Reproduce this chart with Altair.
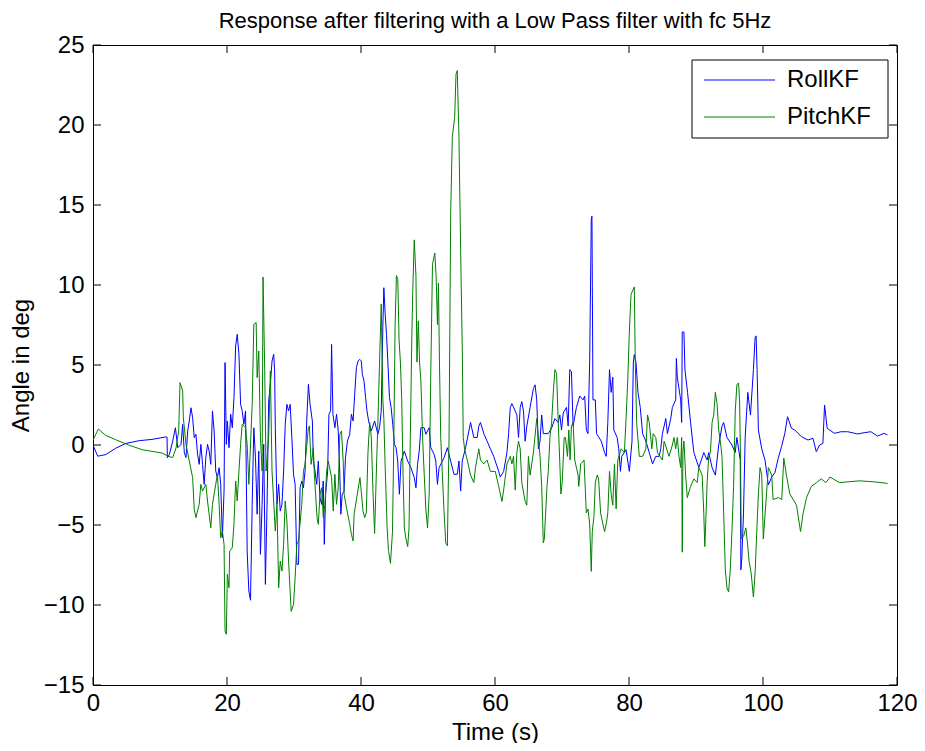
import altair as alt
import pandas as pd

# ---------------- data ----------------
roll_t = [0.0, 0.7, 1.9, 3.4, 4.9, 6.9, 8.8, 10.8, 11.05, 11.1, 11.41, 11.9, 12.3, 12.64, 13.14, 13.38,
          13.63, 13.88, 14.13, 14.37, 14.62, 14.87, 15.11, 15.36, 15.61, 15.85, 16.1, 16.35, 16.59, 16.84,
          17.09, 17.34, 17.58, 17.83, 18.08, 18.32, 18.57, 18.82, 19.06, 19.31, 19.56, 19.71, 19.9, 20.05,
          20.3, 20.55, 20.79, 21.04, 21.29, 21.53, 21.78, 22.03, 22.27, 22.52, 22.77, 23.01, 23.26, 23.51,
          23.76, 24.0, 24.25, 24.5, 24.74, 24.99, 25.24, 25.48, 25.73, 25.98, 26.22, 26.47, 26.72, 26.97,
          27.11, 27.21, 27.46, 27.71, 27.95, 28.2, 28.45, 28.69, 28.94, 29.19, 29.43, 29.68, 29.93, 30.17,
          30.42, 30.67, 30.91, 31.16, 31.41, 31.65, 31.9, 32.15, 32.4, 32.74, 32.89, 33.14, 33.39, 33.63,
          33.88, 34.13, 34.37, 34.52, 34.72, 35.02, 35.21, 35.46, 35.61, 35.81, 36.1, 36.35, 36.6, 36.84,
          36.99, 37.19, 37.48, 37.68, 37.98, 38.32, 38.57, 38.82, 39.06, 39.31, 39.56, 39.81, 40.05, 40.2,
          40.45, 40.69, 40.89, 41.14, 41.53, 42.03, 42.52, 42.77, 43.02, 43.26, 43.41, 43.61, 43.81, 44.0,
          44.25, 44.5, 44.74, 44.99, 45.24, 45.48, 45.73, 45.98, 46.47, 46.96, 47.46, 47.95, 48.2, 48.44,
          48.69, 48.94, 49.43, 49.68, 50.17, 50.42, 50.91, 51.16, 51.41, 51.65, 52.4, 52.89, 53.38, 53.88,
          54.37, 54.62, 54.87, 55.11, 55.61, 56.35, 56.84, 57.34, 57.58, 57.83, 58.33, 58.82, 59.31, 59.81,
          60.55, 60.79, 61.29, 61.78, 62.03, 62.28, 62.52, 63.02, 63.26, 63.51, 63.76, 64.0, 64.25, 64.5,
          64.75, 65.24, 65.73, 65.98, 66.23, 66.47, 66.72, 66.97, 67.21, 67.95, 68.45, 68.94, 69.44, 69.68,
          69.93, 70.18, 70.67, 70.92, 71.16, 71.41, 71.66, 72.15, 72.65, 73.14, 73.39, 73.63, 73.88, 74.13,
          74.37, 74.47, 74.62, 74.97, 75.16, 75.86, 76.35, 76.6, 76.84, 77.09, 77.34, 77.58, 77.73, 78.23,
          78.47, 78.72, 78.92, 79.56, 80.05, 80.45, 80.65, 80.79, 81.04, 81.34, 81.68, 82.03, 82.52, 83.02,
          83.51, 84.0, 84.5, 84.74, 84.99, 85.49, 85.73, 86.23, 86.47, 86.97, 87.07, 87.21, 87.71, 87.86,
          87.95, 88.2, 88.35, 88.74, 89.19, 89.68, 90.42, 91.16, 91.66, 91.9, 92.4, 92.89, 93.39, 93.88,
          94.13, 94.62, 95.36, 95.86, 96.1, 96.6, 96.7, 96.84, 97.09, 97.34, 97.73, 98.13, 98.57, 98.82,
          98.97, 99.12, 99.31, 99.81, 100.3, 100.8, 101.3, 101.78, 102.27, 102.77, 103.26, 103.66, 104.25,
          104.74, 105.73, 106.72, 107.46, 107.95, 108.45, 108.94, 109.19, 109.58, 110.67, 111.66, 112.64,
          114.12, 115.11, 116.1, 117.09, 118.08, 118.57]
roll_v = [0.0, -0.7, -0.6, -0.2, 0.1, 0.27, 0.35, 0.5, 0.5, -0.8, -0.58, 0.25, 1.08, -0.17, 0.04, 1.29,
          -0.48, -0.79, 0.88, 1.5, 2.33, 1.71, 0.46, 0.67, -0.58, -1.21, 0.04, -1.21, -2.46, -0.79,
          0.04, -0.38, -1.21, 2.13, 0.88, -1.63, -2.04, -1.42, -2.46, -5.79, -2.88, 5.15, 0.04, 1.5,
          -0.17, 1.92, 1.08, 2.96, 6.19, 6.92, 5.67, 2.54, 2.13, 1.29, 2.13, -6.63, -9.13, -9.7,
          -3.71, 1.08, -0.79, -4.33, -0.38, -6.83, -3.71, 0.04, -8.71, -3.71, 2.75, 3.79, 5.25, 5.67,
          4.63, 1.08, -3.71, -2.46, -4.13, -3.71, -1.63, 1.29, 2.54, 2.13, 2.54, 0.46, -1.83, -2.46,
          -7.46, -7.46, -2.67, -2.25, -2.67, -1.63, 1.5, 3.79, 2.54, 1.5, -1.0, -1.63, -2.46, -1.0,
          -3.29, -3.71, -2.25, -6.21, -3.08, -1.63, 1.92, 2.13, 6.29, 1.92, 1.08, 1.92, 0.88, -1.83,
          -4.33, -3.08, -2.88, -0.79, 0.25, 0.67, 1.92, 1.5, 3.17, 4.83, 5.25, 5.35, 5.25, 4.42,
          4.0, 2.96, 2.13, 1.5, 0.88, 1.5, 0.67, 1.08, 2.13, 7.33, 9.83, 8.17, 6.92, 5.25,
          2.96, 2.33, 1.29, 0.04, -0.17, -1.0, -3.08, -1.0, -0.38, -1.0, -1.42, -2.04, -2.67, -1.21,
          -0.38, 1.08, 1.08, 0.67, 1.08, -0.17, -0.58, -1.0, -2.46, -1.42, -0.79, -0.17, -1.0, -1.83,
          -1.83, -1.0, -2.88, -1.0, -0.17, 1.41, 0.47, 0.47, 1.18, 1.41, 0.71, 0.24, -0.24, -0.71,
          -1.65, -2.0, -1.65, -0.47, 0.71, 2.35, 2.59, 2.12, 1.88, 0.47, 2.35, 2.71, 2.12, 0.24,
          1.18, 2.35, 3.53, 3.76, 2.82, -0.24, 0.24, 1.88, 0.71, 0.71, 1.06, 1.65, 1.41, 1.88,
          0.94, 2.0, 2.35, 1.18, 4.71, 4.59, 1.18, 2.35, 3.06, 2.82, 3.06, 0.94, 0.71, 5.18,
          14.1, 14.3, 2.82, 2.82, 0.71, 0.24, -0.47, -0.71, 1.41, 4.71, 3.29, 4.24, 0.94, 0.47,
          -0.24, -1.65, -0.71, -0.3, -1.65, 0.24, 5.18, 5.65, 5.18, 3.29, 2.35, 0.71, 0.24, -0.47,
          -1.18, -0.71, -0.71, -0.24, 0.71, 1.65, 0.71, 1.65, 2.35, 2.82, 5.41, 4.24, 2.82, 1.41,
          7.06, 7.06, 4.71, 3.29, 1.41, -0.47, -1.41, -0.47, -0.94, -0.47, -1.41, -1.88, 0.0, 1.18,
          1.41, 0.47, 0.0, -0.47, 0.47, -0.94, -7.8, -7.06, -4.24, 0.47, 3.29, 1.88, 4.71, 6.71,
          6.82, 4.71, 0.94, -0.24, -0.94, -2.5, -2.0, -1.73, -0.83, -0.1, 0.73, 1.77, 1.04,
          0.94, 0.52, 0.31, 0.42, -0.42, 0.0, 0.1, 2.5, 1.04, 0.73, 0.83, 0.83,
          0.69, 0.77, 0.83, 0.56, 0.73, 0.63]

pitch_t = [0.0, 0.8, 1.9, 3.4, 5.3, 7.4, 10.3, 11.2, 11.9, 12.4, 12.79, 12.99, 13.38, 13.48, 13.88, 14.37,
           14.87, 15.11, 15.36, 15.85, 16.1, 16.35, 16.84, 17.09, 17.58, 17.83, 18.32, 18.57, 18.82, 19.06,
           19.31, 19.56, 19.71, 19.9, 20.05, 20.3, 20.4, 20.79, 21.04, 21.29, 21.53, 21.78, 22.03, 22.27,
           22.77, 23.01, 23.26, 23.76, 24.0, 24.35, 24.5, 24.74, 24.99, 25.24, 25.38, 25.63, 25.83, 26.22,
           26.47, 26.72, 27.21, 27.46, 27.71, 27.95, 28.2, 28.45, 28.69, 28.94, 29.19, 29.58, 29.93, 30.17,
           30.42, 30.67, 31.16, 31.41, 31.65, 32.15, 32.3, 32.55, 32.89, 33.04, 33.44, 33.63, 33.88, 34.13,
           34.37, 34.62, 34.87, 35.11, 35.61, 35.86, 36.1, 36.35, 36.6, 36.84, 37.09, 37.34, 37.48, 37.83,
           38.32, 38.57, 38.82, 38.97, 39.36, 39.85, 40.3, 40.55, 40.79, 41.04, 41.29, 41.54, 41.78, 42.03,
           42.28, 42.52, 42.77, 43.02, 43.26, 43.41, 43.61, 43.9, 44.1, 44.4, 44.7, 44.89, 45.09, 45.29,
           45.49, 45.68, 45.88, 46.08, 46.28, 46.47, 46.72, 46.97, 47.17, 47.36, 47.56, 47.71, 47.95, 48.2,
           48.35, 48.55, 48.74, 48.94, 49.19, 49.44, 49.68, 49.93, 50.18, 50.42, 50.67, 51.02, 51.21, 51.41,
           51.56, 51.71, 51.9, 52.15, 52.4, 52.65, 52.89, 53.14, 53.39, 53.63, 53.98, 54.18, 54.37, 54.62,
           54.87, 55.12, 55.26, 55.46, 55.86, 56.35, 56.84, 57.09, 57.58, 57.83, 58.33, 58.82, 59.31, 60.05,
           60.55, 61.04, 61.29, 61.78, 62.28, 62.52, 62.77, 63.02, 63.26, 63.51, 63.76, 64.0, 64.5, 64.75,
           64.99, 65.24, 65.73, 66.23, 66.47, 66.72, 66.97, 67.21, 67.36, 67.56, 67.76, 67.95, 68.2, 68.45,
           68.7, 68.94, 69.19, 69.44, 69.68, 69.83, 70.03, 70.33, 70.52, 70.82, 71.02, 71.21, 71.41, 71.66,
           71.9, 72.4, 72.5, 72.79, 73.29, 73.63, 73.88, 74.13, 74.37, 74.52, 74.77, 74.97, 75.26, 75.46,
           75.76, 76.1, 76.35, 76.6, 76.84, 77.09, 77.34, 77.58, 77.83, 78.08, 78.33, 78.82, 79.31, 79.56,
           79.81, 80.05, 80.3, 80.79, 80.94, 81.14, 81.54, 82.03, 82.52, 82.77, 83.02, 83.41, 83.61, 84.0,
           84.25, 84.99, 85.24, 85.98, 86.47, 86.72, 86.97, 87.21, 87.46, 87.71, 87.86, 87.95, 88.05, 88.2,
           88.45, 88.7, 89.19, 89.68, 90.18, 90.42, 90.92, 91.16, 91.31, 91.41, 91.66, 91.9, 92.15, 92.4,
           92.65, 92.89, 93.14, 93.39, 93.63, 93.88, 94.13, 94.37, 94.62, 94.87, 95.12, 95.36, 95.61, 95.86,
           96.1, 96.35, 96.5, 96.65, 96.75, 97.14, 97.44, 97.68, 97.93, 98.23, 98.57, 98.82, 99.07, 99.31,
           99.56, 99.81, 100.05, 100.8, 101.3, 101.5, 102.3, 102.8, 103.1, 103.5, 104.0, 105.0, 105.6, 106.0,
           106.5, 107.2, 108.0, 108.7, 109.4, 110.0, 111.4, 114.4, 116.8, 118.6]
pitch_v = [0.3, 1.0, 0.6, 0.33, 0.0, -0.3, -0.5, -0.7, -0.79, -0.17, 0.88, 3.9, 3.38, 1.71, 0.04, -1.0,
           -2.04, -4.02, -4.54, -3.71, -2.46, -2.88, -2.46, -3.5, -5.17, -3.71, -2.46, -1.83, -3.71, -5.79,
           -5.38, -6.21, -11.63, -11.83, -8.08, -8.92, -6.63, -6.42, -4.96, -2.25, -3.5, -1.63, 0.04, 1.29,
           1.08, 0.04, -2.46, 2.54, 7.54, 7.65, 4.21, 5.88, 0.46, -1.63, 10.5, 4.63, -1.63, 0.46,
           4.63, -1.63, -5.38, -3.71, -8.92, -7.25, -7.88, -6.21, -3.5, -4.75, -7.25, -10.4, -9.96, -8.29,
           -6.21, -6.0, -3.71, -1.63, -1.21, 1.08, 1.19, -1.21, -0.17, -1.83, -4.54, -4.96, -3.08, -2.67,
           -4.54, -3.71, -1.63, -1.0, -2.04, -4.13, -1.83, -3.71, -2.67, 0.67, 0.88, -1.0, -3.08, -3.92,
           -4.96, -5.58, -6.0, -4.33, -3.29, -2.04, -4.13, -4.54, -4.24, -0.47, 1.41, 0.47, -2.82, -5.53,
           -1.88, 1.41, 5.18, 8.82, 2.82, 1.65, -1.41, -5.18, -6.59, -7.4, -5.41, 0.0, 7.53, 10.59,
           10.35, 6.59, 5.18, 2.82, -1.88, -5.18, -5.88, -6.35, -5.18, 0.47, 6.12, 9.41, 12.82, 10.59,
           5.18, 7.76, 5.18, 4.0, 0.47, -1.88, -4.0, -5.18, -3.06, 4.71, 11.29, 12.0, 10.59, 7.53,
           10.12, 5.18, 0.47, -1.88, -4.24, -6.12, -6.3, 0.47, 14.59, 19.29, 20.47, 23.18, 23.4, 19.29,
           12.24, 5.88, 0.47, -0.24, -0.94, -1.88, -2.35, -1.41, -0.24, -0.94, -1.18, -0.94, -1.65, -1.65,
           -2.59, -3.53, -2.82, -1.18, -0.71, -1.18, -0.71, -2.82, -0.47, 0.24, -0.24, -2.35, -3.53, -3.76,
           -0.71, -1.88, -0.47, 1.65, 0.47, -0.71, -2.59, -6.12, -5.88, -4.24, -2.59, -1.65, 0.47, 1.41,
           3.29, 4.71, 4.47, 1.41, -1.18, -3.06, -2.35, 0.47, 0.47, -0.71, 0.94, -0.94, 1.18, 1.41,
           -0.94, -1.88, -2.59, -1.18, -0.94, -4.24, -4.0, -4.94, -7.9, -5.41, -4.47, -2.35, -1.88, -2.12,
           -4.24, -4.94, -5.41, -4.94, -4.24, -1.65, -3.06, -3.76, -1.18, -4.0, -0.94, -0.24, -0.47, 1.65,
           4.0, 7.06, 9.41, 9.88, 5.18, 1.41, -0.71, -0.71, -0.24, 1.88, 1.41, -0.24, 0.71, 0.47,
           -0.47, -0.94, 0.24, -0.71, 0.0, 0.47, -0.24, 0.47, -0.71, -1.41, 0.47, -6.7, -0.47, 0.24,
           -1.88, -3.29, -2.59, -2.12, -2.35, -1.41, -1.88, -4.24, -6.35, -5.41, -2.35, -0.71, -0.47, 1.41,
           1.88, 3.29, 2.59, 0.94, 0.24, -0.71, -4.24, -7.76, -8.94, -9.18, -7.76, -5.41, -2.59, 2.12,
           3.76, 3.88, 2.82, -0.94, -5.88, -5.65, -5.18, -6.12, -7.29, -8.0, -9.5, -8.0, -5.41, -3.06,
           -1.41, -1.88, -5.88, -1.41, -1.88, -3.41, -3.29, -3.41, -0.82, -1.88, -3.06, -3.76, -5.41, -4.24,
           -3.29, -2.59, -2.35, -2.12, -2.35, -2.0, -2.35, -2.24, -2.31, -2.4]

series_names = ["RollKF", "PitchKF"]
series_colors = ["#0000ff", "#008000"]
x_ticks = [0, 20, 40, 60, 80, 100, 120]
y_ticks = [-15, -10, -5, 0, 5, 10, 15, 20, 25]
title_text = "Response after filtering with a Low Pass filter with fc 5Hz"
x_title = "Time (s)"
y_title = "Angle in deg"

# ---------------- chart ----------------
FONT = "Liberation Sans"
W, H = 804, 640
TICK = 8

df = pd.concat([
    pd.DataFrame({"t": roll_t, "v": roll_v, "series": series_names[0]}),
    pd.DataFrame({"t": pitch_t, "v": pitch_v, "series": series_names[1]}),
], ignore_index=True)

xscale = alt.Scale(domain=[0, 120], nice=False, zero=False)
yscale = alt.Scale(domain=[-15, 25], nice=False, zero=False)

axis_common = dict(ticks=False, tickSize=0, domain=False, grid=False,
                   labelFont=FONT, titleFont=FONT, labelFontSize=24, titleFontSize=24,
                   labelColor="black", titleColor="black", titleFontWeight="normal",
                   labelFlush=False, labelOverlap=False)
x_axis = alt.Axis(values=x_ticks, title=x_title, labelPadding=6, titlePadding=5, **axis_common)
y_axis = alt.Axis(values=y_ticks, title=y_title, labelPadding=9, titlePadding=10, **axis_common)

lines = alt.Chart(df).mark_line(strokeWidth=1, clip=True).encode(
    x=alt.X("t:Q", scale=xscale, axis=x_axis),
    y=alt.Y("v:Q", scale=yscale, axis=y_axis),
    color=alt.Color("series:N", scale=alt.Scale(domain=series_names, range=series_colors), legend=None),
)

# inward ticks on all four sides (MATLAB box style)
xt = pd.DataFrame({"t": x_ticks})
yt = pd.DataFrame({"v": y_ticks})
tick_style = dict(color="black", strokeWidth=1)
tick_bottom = alt.Chart(xt).mark_rule(**tick_style).encode(
    x=alt.X("t:Q", scale=xscale, axis=x_axis), y=alt.value(H), y2=alt.value(H - TICK))
tick_top = alt.Chart(xt).mark_rule(**tick_style).encode(
    x=alt.X("t:Q", scale=xscale, axis=x_axis), y=alt.value(0), y2=alt.value(TICK))
tick_left = alt.Chart(yt).mark_rule(**tick_style).encode(
    y=alt.Y("v:Q", scale=yscale, axis=y_axis), x=alt.value(0), x2=alt.value(TICK))
tick_right = alt.Chart(yt).mark_rule(**tick_style).encode(
    y=alt.Y("v:Q", scale=yscale, axis=y_axis), x=alt.value(W), x2=alt.value(W - TICK))

# legend box (drawn like MATLAB's boxed legend)
LX0, LX1, LY0, LY1 = 599, 795, 15, 93
ROW_Y = [35, 72]
SYM_X0, SYM_X1, LABEL_X = 611, 682, 694
leg_box = alt.Chart(pd.DataFrame({"box": [0]})).mark_rect(
    fill="white", stroke="black", strokeWidth=1).encode(
    x=alt.value(LX0), x2=alt.value(LX1), y=alt.value(LY0), y2=alt.value(LY1))
leg_layers = []
for name, col, ry in zip(series_names, series_colors, ROW_Y):
    row = pd.DataFrame({"series": [name]})
    leg_layers.append(alt.Chart(row).mark_rule(color=col, strokeWidth=1).encode(
        x=alt.value(SYM_X0), x2=alt.value(SYM_X1), y=alt.value(ry)))
    leg_layers.append(alt.Chart(row).mark_text(
        align="left", baseline="middle", font=FONT, fontSize=24, color="black").encode(
        x=alt.value(LABEL_X), y=alt.value(ry), text="series:N"))

chart = alt.layer(lines, tick_bottom, tick_top, tick_left, tick_right, leg_box, *leg_layers).properties(
    width=W, height=H,
    title=alt.TitleParams(title_text, font=FONT, fontSize=22, fontWeight="normal", color="black",
                          anchor="middle", offset=0),
    autosize=alt.AutoSizeParams(type="none"),
    padding={"left": 85, "top": 37, "right": 20, "bottom": 58},
    background="white",
).configure_view(stroke="black", strokeWidth=1)

chart.save("out.html", embed_options={"renderer": "svg", "actions": False})
